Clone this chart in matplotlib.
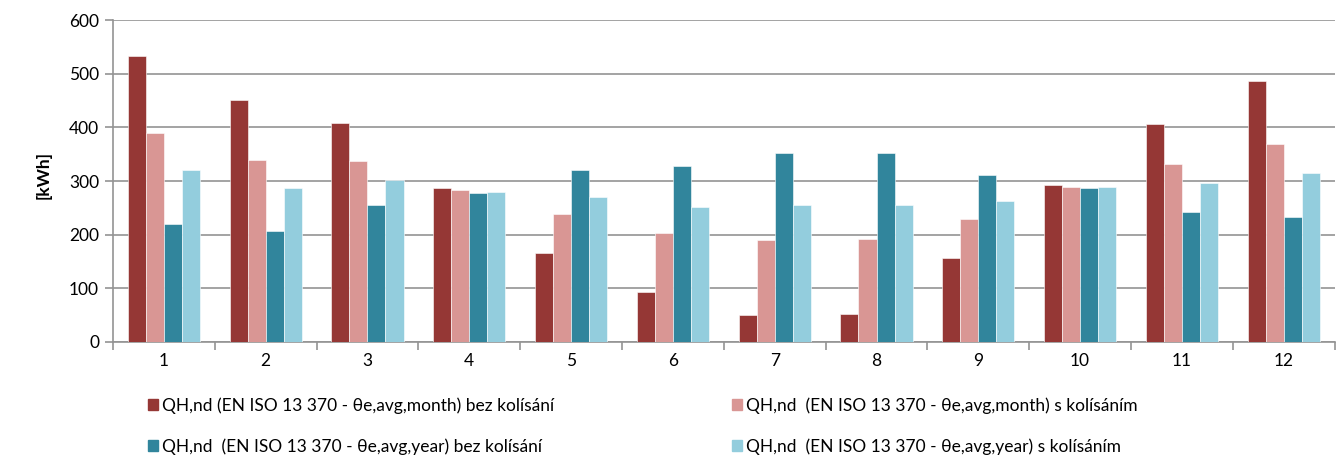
import numpy as np
import matplotlib.pyplot as plt
from matplotlib.patches import Patch

plt.rcParams['font.family'] = ['Lato', 'DejaVu Sans']

mesice = ["1", "2", "3", "4", "5", "6", "7", "8", "9", "10", "11", "12"]
mesic_bez = [533, 452, 408, 287, 166, 93, 50, 52, 156, 292, 406, 486]
mesic_s = [389, 339, 337, 283, 238, 203, 190, 192, 229, 289, 331, 369]
rok_bez = [220, 207, 255, 277, 320, 328, 352, 352, 311, 287, 242, 233]
rok_s = [320, 287, 302, 279, 270, 251, 255, 255, 262, 289, 296, 315]

nazvy = [
    "QH,nd (EN ISO 13 370 - θe,avg,month) bez kolísání",
    "QH,nd  (EN ISO 13 370 - θe,avg,month) s kolísáním",
    "QH,nd  (EN ISO 13 370 - θe,avg,year) bez kolísání",
    "QH,nd  (EN ISO 13 370 - θe,avg,year) s kolísáním",
]
barvy = ["#953735", "#D99694", "#31859C", "#93CDDD"]
serie = [mesic_bez, mesic_s, rok_bez, rok_s]

fig = plt.figure(figsize=(13.4, 4.59), dpi=100)
ax = fig.add_axes([0.0843, 0.255, 0.9117, 0.701])

x = np.arange(len(mesice))
w = 0.177
for i, (vals, c) in enumerate(zip(serie, barvy)):
    ax.bar(x + (i - 1.5) * w, vals, width=w, color=c, edgecolor="white",
           linewidth=0.4, zorder=3)

ax.set_xlim(-0.5, len(mesice) - 0.5)
ax.set_ylim(0, 600)
ax.set_yticks(range(0, 601, 100))
ax.yaxis.grid(True, color="#939393", linewidth=1.2, zorder=0)
ax.set_xticks(x)
ax.set_xticklabels(mesice)
ax.set_xticks(np.arange(-0.5, len(mesice), 1), minor=True)
ax.tick_params(axis="x", which="major", length=0, pad=8, labelsize=12.5)
ax.tick_params(axis="x", which="minor", length=6, color="#939393", width=1.2)
ax.tick_params(axis="y", length=6, color="#939393", width=1.2, labelsize=12.5, pad=4)
for s in ["top", "right"]:
    ax.spines[s].set_visible(False)
for s in ["left", "bottom"]:
    ax.spines[s].set_color("#939393")
    ax.spines[s].set_linewidth(1.2)

ax.set_ylabel("[kWh]", fontsize=12.5, fontweight="bold")
ax.yaxis.set_label_coords(-0.05, 0.52)

poradi = [0, 2, 1, 3]
handles = [Patch(color=barvy[i]) for i in poradi]
labels = [nazvy[i] for i in poradi]
fig.legend(handles, labels, ncol=2, frameon=False, fontsize=12.5,
           loc="upper left", bbox_to_anchor=(0.105, 0.15),
           handlelength=0.6, handleheight=0.6, handletextpad=0.25,
           labelspacing=1.4, columnspacing=10.2, borderaxespad=0)

fig.savefig("out.png", dpi=100)
